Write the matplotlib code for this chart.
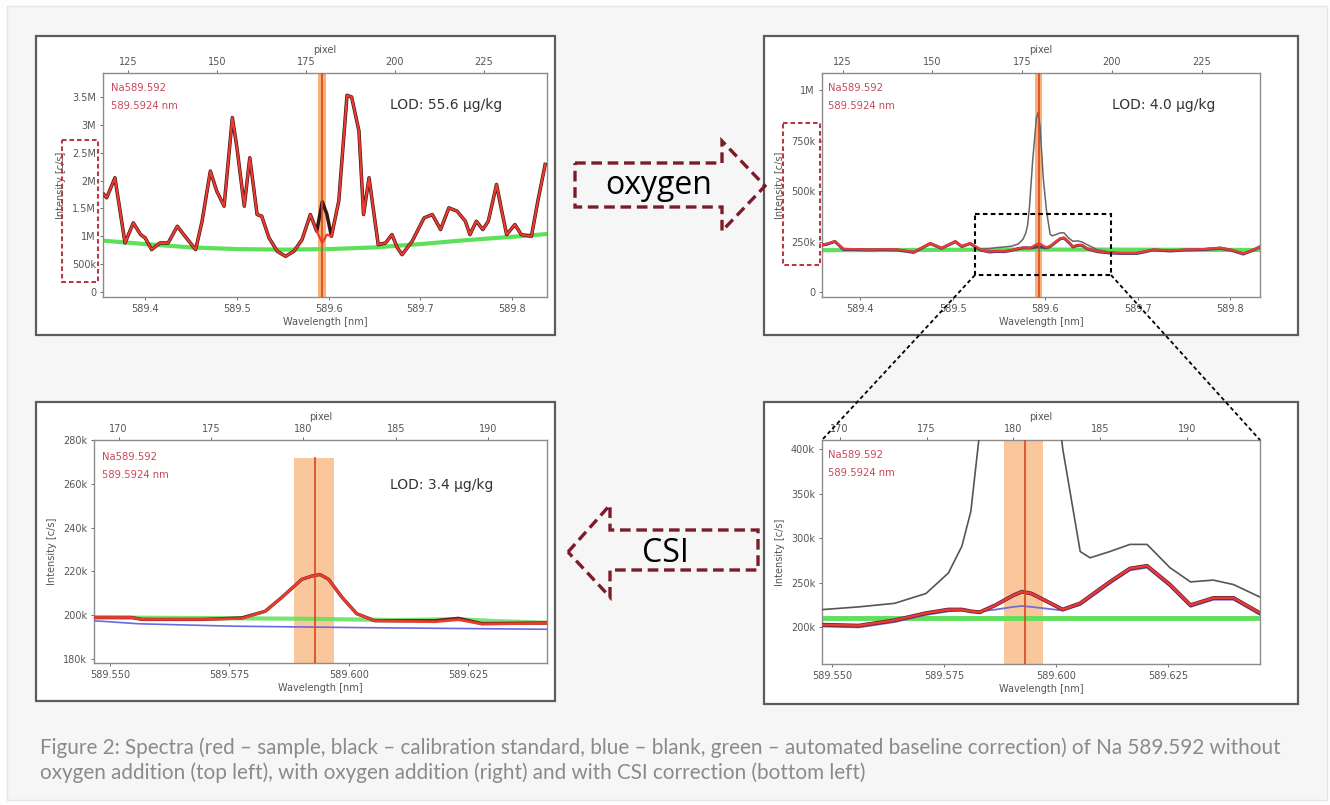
import numpy as np
import matplotlib
matplotlib.use('Agg')
import matplotlib.pyplot as plt
from matplotlib.patches import Rectangle, Polygon

# ---------------- data ----------------
# top left: no oxygen (values in M c/s)
wl_tl = [589.355, 589.358, 589.367, 589.378, 589.387, 589.395, 589.400, 589.407, 589.416, 589.425,
         589.435, 589.442, 589.455, 589.462, 589.471, 589.478, 589.486, 589.495, 589.500, 589.508,
         589.514, 589.522, 589.527, 589.535, 589.544, 589.553, 589.562, 589.571, 589.580, 589.587,
         589.593, 589.598, 589.603, 589.611, 589.620, 589.625, 589.633, 589.638, 589.644, 589.649,
         589.654, 589.662, 589.669, 589.675, 589.680, 589.691, 589.704, 589.713, 589.722, 589.731,
         589.740, 589.749, 589.754, 589.761, 589.768, 589.774, 589.783, 589.788, 589.794, 589.803,
         589.810, 589.821, 589.828, 589.836]
sample_tl = [1.75, 1.69, 2.05, 0.88, 1.24, 1.03, 0.97, 0.76, 0.88, 0.88,
             1.18, 1.03, 0.76, 1.27, 2.17, 1.81, 1.54, 3.13, 2.59, 1.54,
             2.41, 1.39, 1.36, 0.97, 0.73, 0.64, 0.73, 0.94, 1.39, 1.09,
             0.88, 1.03, 1.00, 1.63, 3.53, 3.50, 2.89, 1.39, 2.05, 1.45,
             0.85, 0.88, 1.03, 0.79, 0.67, 0.91, 1.33, 1.39, 1.12, 1.51,
             1.45, 1.27, 1.03, 1.27, 1.12, 1.27, 1.93, 1.51, 1.03, 1.21,
             1.03, 1.00, 1.63, 2.29]
calib_tl = [1.75, 1.69, 2.05, 0.88, 1.24, 1.03, 0.97, 0.76, 0.88, 0.88,
            1.18, 1.03, 0.76, 1.27, 2.17, 1.81, 1.54, 3.13, 2.59, 1.54,
            2.41, 1.39, 1.36, 0.97, 0.73, 0.64, 0.73, 0.94, 1.39, 1.09,
            1.62, 1.40, 1.00, 1.63, 3.53, 3.50, 2.89, 1.39, 2.05, 1.45,
            0.85, 0.88, 1.03, 0.79, 0.67, 0.91, 1.33, 1.39, 1.12, 1.51,
            1.45, 1.27, 1.03, 1.27, 1.12, 1.27, 1.93, 1.51, 1.03, 1.21,
            1.03, 1.00, 1.63, 2.29]
wl_base_tl = [589.355, 589.40, 589.45, 589.50, 589.55, 589.60, 589.65, 589.70, 589.75, 589.80, 589.838]
base_tl = [0.92, 0.86, 0.80, 0.77, 0.76, 0.77, 0.80, 0.86, 0.93, 0.99, 1.04]

# right column: with oxygen (values in k c/s)
wl_ox = [589.360, 589.364, 589.373, 589.382, 589.395, 589.411, 589.425, 589.440, 589.458, 589.476,
         589.488, 589.503, 589.510, 589.519, 589.530, 589.540, 589.548, 589.556, 589.564, 589.571,
         589.576, 589.579, 589.581, 589.583, 589.5865, 589.5905, 589.5924, 589.5945, 589.598, 589.6015,
         589.6054, 589.6076, 589.612, 589.6165, 589.6203, 589.6254, 589.630, 589.6351, 589.6396, 589.6455,
         589.656, 589.670, 589.681, 589.699, 589.717, 589.735, 589.753, 589.770, 589.789, 589.800,
         589.814, 589.825, 589.834]
sample_ox = [235, 238, 252, 213, 212, 210, 212, 210, 198, 243,
             218, 252, 227, 243, 210, 200, 203, 202, 208, 216,
             220, 220, 218, 217, 225, 236, 240, 238, 229, 220,
             227, 235, 251, 266, 269, 248, 225, 233, 233, 216,
             202, 195, 193, 193, 210, 205, 210, 212, 218, 210,
             190, 210, 230]
calib_ox = [238, 240, 250, 215, 212, 210, 212, 210, 200, 235,
            215, 245, 225, 238, 212, 215, 220, 223, 227, 238,
            261, 291, 330, 420, 650, 860, 890, 820, 560, 400,
            285, 278, 285, 293, 293, 267, 251, 253, 248, 234,
            210, 197, 195, 195, 208, 207, 210, 212, 222, 210,
            193, 208, 228]
blank_ox = [233, 236, 250, 211, 210, 208, 210, 208, 196, 240,
            216, 249, 225, 240, 208, 198, 201, 200, 206, 214,
            218, 219, 218, 218, 220, 223, 224, 223, 221, 219,
            225, 233, 249, 264, 267, 246, 223, 231, 231, 214,
            200, 193, 191, 191, 208, 203, 208, 210, 216, 208,
            188, 208, 228]
wl_base_ox = [589.360, 589.45, 589.55, 589.65, 589.75, 589.834]
base_ox = [207, 208, 210, 210, 209, 208]

# bottom left: CSI corrected (values in k c/s)
wl_csi = [589.5466, 589.5545, 589.5566, 589.5692, 589.5776, 589.5825, 589.5860, 589.5902, 589.5923,
          589.5940, 589.5958, 589.5986, 589.6017, 589.6055, 589.6181, 589.6230, 589.6279, 589.6416]
sample_csi = [199.0, 199.0, 198.1, 198.1, 198.5, 201.8, 208.2, 216.4, 217.9,
              218.6, 216.4, 208.2, 200.7, 197.5, 197.0, 198.0, 196.0, 196.3]
calib_csi = [199.0, 199.0, 198.1, 198.1, 198.8, 201.8, 208.2, 216.4, 217.9,
             218.6, 216.4, 208.2, 200.7, 197.5, 197.5, 198.6, 196.2, 196.5]
wl_blank_csi = [589.5466, 589.556, 589.576, 589.605, 589.6416]
blank_csi = [197.5, 196.1, 195.0, 194.3, 193.6]
wl_base_csi = [589.5466, 589.578, 589.590, 589.610, 589.623, 589.630, 589.6416]
base_csi = [199.0, 198.6, 198.4, 197.8, 198.2, 197.4, 196.6]

line_wl = 589.5930
band_wl = (589.5885, 589.5970)
lod_texts = ['LOD: 55.6 µg/kg', 'LOD: 4.0 µg/kg', 'LOD: 3.4 µg/kg']
caption = ['Figure 2: Spectra (red \u2013 sample, black \u2013 calibration standard, blue \u2013 blank, green \u2013 automated baseline correction) of Na 589.592 without',
           'oxygen addition (top left), with oxygen addition (right) and with CSI correction (bottom left)']

# ---------------- figure ----------------
W, H = 1330, 805
fig = plt.figure(figsize=(W / 100, H / 100), dpi=100)
fig.patch.set_facecolor('#fdfdfd')


def box(l, t, r, b):
    return [l / W, 1 - b / H, (r - l) / W, (b - t) / H]


bg = fig.add_axes([0, 0, 1, 1], zorder=0)
bg.set_xlim(0, W); bg.set_ylim(H, 0); bg.axis('off')
bg.add_patch(Rectangle((7, 6), 1320, 794, facecolor='#f6f6f6', edgecolor='#e4e4e4', lw=1))
for (l, t, r, b) in [(36, 36, 555, 335), (764, 36, 1298, 335), (36, 402, 555, 701), (764, 402, 1298, 704)]:
    bg.add_patch(Rectangle((l, t), r - l, b - t, facecolor='white', edgecolor='#5c5c5c', lw=1.6))

TXT = '#555555'
RED = '#ec3a2e'
BLK = '#3a3a3a'
BLUE = '#6a6ae0'
GREEN = '#5ee05a'
BAND = '#f7a35c'
MARK = '#d8451e'


def panel(rect, xlim, ylim, xticks, xtl, yticks, ytl, origin, pticks):
    ax = fig.add_axes(box(*rect), zorder=2)
    ax.set_xlim(*xlim); ax.set_ylim(*ylim)
    ax.set_xticks(xticks); ax.set_xticklabels(xtl)
    ax.set_yticks(yticks); ax.set_yticklabels(ytl)
    ax.tick_params(labelsize=7, colors=TXT, length=2, width=0.6, pad=3)
    for s in ax.spines.values():
        s.set_color('#8c8c8c'); s.set_linewidth(1.0)
    ax.set_xlabel('Wavelength [nm]', fontsize=7, color=TXT, labelpad=2)
    ax.set_ylabel('Intensity [c/s]', fontsize=7, color=TXT, labelpad=4)
    f = lambda w, o=origin: 180 + (np.asarray(w) - o) * 258.0
    g = lambda p, o=origin: o + (np.asarray(p) - 180) / 258.0
    sec = ax.secondary_xaxis('top', functions=(f, g))
    sec.set_xticks(pticks)
    sec.tick_params(labelsize=7, colors=TXT, length=2, width=0.6, pad=2)
    sec.set_xlabel('pixel', fontsize=7, color=TXT, labelpad=3)
    sec.spines['top'].set_visible(False)
    return ax


# top left
ax1 = panel((103, 73, 547, 297), (589.354, 589.838), (-0.09e6, 3.93e6),
            [589.4, 589.5, 589.6, 589.7, 589.8], ['589.4', '589.5', '589.6', '589.7', '589.8'],
            [0, 0.5e6, 1e6, 1.5e6, 2e6, 2.5e6, 3e6, 3.5e6], ['0', '500k', '1M', '1.5M', '2M', '2.5M', '3M', '3.5M'],
            589.5945, [125, 150, 175, 200, 225])
ax1.plot(wl_base_tl, np.array(base_tl) * 1e6, color=GREEN, lw=3, zorder=2)
ax1.plot(wl_tl, np.array(calib_tl) * 1e6, color='#3a1414', lw=2.5, zorder=3)
ax1.plot(wl_tl, np.array(sample_tl) * 1e6, color=RED, lw=1.6, zorder=4)
ax1.axvspan(*band_wl, color=BAND, alpha=0.85, lw=0, zorder=1)
ax1.axvline(line_wl, color=MARK, lw=1.2, zorder=5)

# top right
ax2 = panel((822, 73, 1260, 297), (589.359, 589.832), (-25e3, 1.085e6),
            [589.4, 589.5, 589.6, 589.7, 589.8], ['589.4', '589.5', '589.6', '589.7', '589.8'],
            [0, 250e3, 500e3, 750e3, 1e6], ['0', '250k', '500k', '750k', '1M'],
            589.5945, [125, 150, 175, 200, 225])
ax2.plot(wl_base_ox, np.array(base_ox) * 1e3, color=GREEN, lw=3, zorder=2)
ax2.plot(wl_ox, np.array(blank_ox) * 1e3, color='#4a3a7a', lw=2.2, zorder=3)
ax2.plot(wl_ox, np.array(calib_ox) * 1e3, color='#666666', lw=1.1, zorder=3)
ax2.plot(wl_ox, np.array(sample_ox) * 1e3, color=RED, lw=1.6, zorder=4)
ax2.axvspan(*band_wl, color=BAND, alpha=0.85, lw=0, zorder=1)
ax2.axvline(line_wl, color=MARK, lw=1.2, zorder=5)

# bottom left
ylim3 = (178.2e3, 280e3)
ax3 = panel((94, 440, 547, 663), (589.5466, 589.6416), ylim3,
            [589.55, 589.575, 589.6, 589.625], ['589.550', '589.575', '589.600', '589.625'],
            [180e3, 200e3, 220e3, 240e3, 260e3, 280e3], ['180k', '200k', '220k', '240k', '260k', '280k'],
            589.5905, [170, 175, 180, 185, 190])
top_frac = (272e3 - ylim3[0]) / (ylim3[1] - ylim3[0])
ax3.axvspan(*band_wl, ymax=top_frac, color=BAND, alpha=0.6, lw=0, zorder=1)
ax3.axvline(line_wl, ymax=top_frac, color=MARK, lw=1.2, zorder=6)
ax3.plot(wl_blank_csi, np.array(blank_csi) * 1e3, color=BLUE, lw=1.2, zorder=3)
ax3.plot(wl_base_csi, np.array(base_csi) * 1e3, color=GREEN, lw=3, alpha=0.85, zorder=2)
ax3.plot(wl_csi, np.array(calib_csi) * 1e3, color='#5a2a1a', lw=2.4, zorder=4)
ax3.plot(wl_csi, np.array(sample_csi) * 1e3, color=RED, lw=1.9, zorder=5)

# bottom right
ax4 = panel((822, 440, 1260, 664), (589.5478, 589.6455), (159e3, 410e3),
            [589.55, 589.575, 589.6, 589.625], ['589.550', '589.575', '589.600', '589.625'],
            [200e3, 250e3, 300e3, 350e3, 400e3], ['200k', '250k', '300k', '350k', '400k'],
            589.5905, [170, 175, 180, 185, 190])
ax4.axvspan(*band_wl, color=BAND, alpha=0.6, lw=0, zorder=1)
ax4.axvline(line_wl, color=MARK, lw=1.2, zorder=6)
ax4.plot(wl_base_ox, np.array(base_ox) * 1e3, color=GREEN, lw=3.5, zorder=2)
ax4.plot(wl_ox, np.array(calib_ox) * 1e3, color='#555555', lw=1.2, zorder=3)
ax4.plot(wl_ox, np.array(blank_ox) * 1e3, color='#7070d0', lw=1.3, zorder=3)
ax4.plot(wl_ox, np.array(sample_ox) * 1e3, color='#5a2040', lw=2.8, zorder=4)
ax4.plot(wl_ox, np.array(sample_ox) * 1e3, color=RED, lw=1.8, zorder=5)

# ---------------- overlay ----------------
ov = fig.add_axes([0, 0, 1, 1], zorder=10)
ov.set_xlim(0, W); ov.set_ylim(H, 0); ov.axis('off'); ov.patch.set_alpha(0)

ARW = '#7b1c28'
dash = (0, (3.2, 1.7))
ov.add_patch(Polygon([(575, 163), (722, 163), (722, 141), (765, 186), (722, 231), (722, 207), (575, 207)],
                     closed=True, fill=False, edgecolor=ARW, lw=2.4, linestyle=dash, joinstyle='miter'))
ov.add_patch(Polygon([(568, 552), (610, 505), (610, 530), (758, 530), (758, 570), (610, 570), (610, 597)],
                     closed=True, fill=False, edgecolor=ARW, lw=2.4, linestyle=dash, joinstyle='miter'))
ov.text(659, 194, 'oxygen', fontsize=23, family='Open Sans', color='black', ha='center', va='baseline')
ov.text(665, 562, 'CSI', fontsize=23, family='Open Sans', color='black', ha='center', va='baseline')

RDASH = '#b83a48'
for (l, t, r, b) in [(62, 140, 98, 282), (783, 123, 820, 265)]:
    ov.add_patch(Rectangle((l, t), r - l, b - t, fill=False, edgecolor=RDASH, lw=1.5, linestyle=(0, (2.2, 1.4))))

ov.add_patch(Rectangle((975, 214), 136, 61, fill=False, edgecolor='black', lw=1.5, linestyle=(0, (2.2, 1.6))))
ov.plot([975, 822], [275, 440], color='black', lw=1.3, linestyle=(0, (2.2, 1.6)))
ov.plot([1111, 1260], [275, 440], color='black', lw=1.3, linestyle=(0, (2.2, 1.6)))

NA = '#c8485a'
for (x, y) in [(111, 88), (828, 88), (102, 457), (828, 455)]:
    ov.text(x, y, 'Na589.592', fontsize=7.2, color=NA, va='center', ha='left')
    ov.text(x, y + 18, '589.5924 nm', fontsize=7.2, color=NA, va='center', ha='left')
for (x, y), t in zip([(390, 105), (1112, 105), (390, 485)], lod_texts):
    ov.text(x, y, t, fontsize=10, color='#333333', va='center', ha='left')

# caption (font size fitted to the reference line width)
cap_family = ['Lato', 'Open Sans', 'DejaVu Sans']
c1 = ov.text(40, 748, caption[0], fontsize=12, family=cap_family, color='#8a8a8a', va='center', ha='left')
c2 = ov.text(40, 773, caption[1], fontsize=12, family=cap_family, color='#8a8a8a', va='center', ha='left')
fig.canvas.draw()
wpx = c1.get_window_extent().width
fs = 12 * 1234 / wpx
c1.set_fontsize(fs); c2.set_fontsize(fs)

fig.savefig('out.png', dpi=100, facecolor=fig.get_facecolor())
